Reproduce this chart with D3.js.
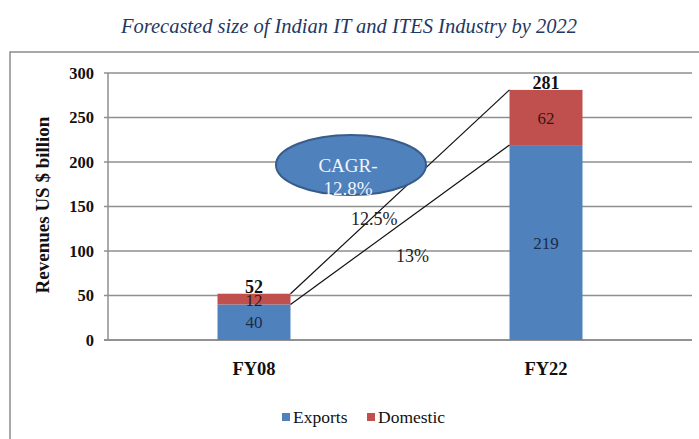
<!DOCTYPE html>
<html>
<head>
<meta charset="utf-8">
<script src="https://cdn.jsdelivr.net/npm/d3@7"></script>
<style>
  body { margin: 0; background: #fff; }
  text { font-family: "Liberation Serif", "Times New Roman", serif; }
</style>
</head>
<body>
<svg id="chart" width="699" height="439"></svg>
<script>
const categories = ['FY08', 'FY22'];
const exports = [40, 219];
const domestic = [12, 62];
const totals = [52, 281];
const yTicks = [0, 50, 100, 150, 200, 250, 300];
const growthLabels = ['12.5%', '13%'];
const cagrText = ['CAGR-', '12.8%'];

const svg = d3.select('#chart');
const margin = {top: 73, left: 108, right: 7, bottom: 99};
const width = 699 - margin.left - margin.right;
const height = 439 - margin.top - margin.bottom;

// outer frame
svg.append('rect')
    .attr('x', 10).attr('y', 52)
    .attr('width', 700).attr('height', 400)
    .style('fill', 'none')
    .style('stroke', '#8c8c8c')
    .style('stroke-width', 1.5);

svg.append('text')
    .attr('x', 349).attr('y', 33)
    .attr('text-anchor', 'middle')
    .style('font-size', '20.5px')
    .style('font-style', 'italic')
    .style('fill', '#1f3864')
    .text('Forecasted size of Indian IT and ITES Industry by 2022');

const g = svg.append('g').attr('transform', `translate(${margin.left},${margin.top})`);

const x = d3.scaleBand().domain(categories).range([0, width]).paddingInner(0).paddingOuter(0);
const y = d3.scaleLinear().domain([0, 300]).range([height, 0]);
const barW = x.bandwidth() * 0.25;

// gridlines
g.selectAll('line.grid')
    .data(yTicks)
    .enter().append('line')
    .attr('class', 'grid')
    .attr('x1', -4).attr('x2', width)
    .attr('y1', d => y(d)).attr('y2', d => y(d))
    .style('stroke', d => d == 0 ? '#6e6e6e' : '#8f8f8f')
    .style('stroke-width', 1.5);

g.append('line')
    .attr('x1', 0).attr('x2', 0)
    .attr('y1', y(300)).attr('y2', y(0))
    .style('stroke', '#8f8f8f')
    .style('stroke-width', 1.5);

const yAxis = d3.axisLeft(y).tickValues(yTicks).tickSize(0).tickPadding(14);
g.append('g').call(yAxis)
    .call(a => a.select('.domain').remove())
    .selectAll('text')
    .style('font-family', '"Liberation Serif", serif')
    .style('font-size', '16.5px')
    .style('font-weight', 'bold')
    .style('fill', '#111');

const xAxis = d3.axisBottom(x).tickSize(0).tickPadding(22);
g.append('g').attr('transform', `translate(0,${height})`).call(xAxis)
    .call(a => a.select('.domain').remove())
    .selectAll('text')
    .style('font-family', '"Liberation Serif", serif')
    .style('font-size', '18.5px')
    .style('font-weight', 'bold')
    .style('fill', '#111');

svg.append('text')
    .attr('transform', `translate(49,${margin.top + 132}) rotate(-90)`)
    .attr('text-anchor', 'middle')
    .style('font-size', '19px')
    .style('font-weight', 'bold')
    .style('fill', '#111')
    .text('Revenues US $ billion');

// bars
const barX = d => x(d) + (x.bandwidth() - barW) / 2;
g.selectAll('rect.exp')
    .data(categories)
    .enter().append('rect')
    .attr('x', barX)
    .attr('y', (d, i) => y(exports[i]))
    .attr('width', barW)
    .attr('height', (d, i) => height - y(exports[i]))
    .style('fill', '#4f81bd');

g.selectAll('rect.dom')
    .data(categories)
    .enter().append('rect')
    .attr('x', barX)
    .attr('y', (d, i) => y(exports[i] + domestic[i]))
    .attr('width', barW)
    .attr('height', (d, i) => y(exports[i]) - y(exports[i] + domestic[i]))
    .style('fill', '#c0504d');

// connector lines
const lineTops = [[totals[0], totals[1]], [exports[0], exports[1]]];
lineTops.forEach(function (p) {
    g.append('line')
        .attr('x1', barX(categories[0]) + barW)
        .attr('y1', y(p[0]))
        .attr('x2', barX(categories[1]))
        .attr('y2', y(p[1]))
        .style('stroke', '#111')
        .style('stroke-width', 1.2);
});

// value labels
const cx = d => x(d) + x.bandwidth() / 2;
g.selectAll('text.exp')
    .data(categories)
    .enter().append('text')
    .attr('x', cx)
    .attr('y', (d, i) => y(exports[i] / 2) + 6)
    .attr('text-anchor', 'middle')
    .style('font-size', '17px')
    .style('fill', '#1c2b4a')
    .text((d, i) => exports[i]);

g.selectAll('text.dom')
    .data(categories)
    .enter().append('text')
    .attr('x', cx)
    .attr('y', (d, i) => i == 0 ? y(exports[i]) + 2 : y(exports[i] + domestic[i] / 2) + 6)
    .attr('text-anchor', 'middle')
    .style('font-size', '17px')
    .style('fill', '#3a1512')
    .text((d, i) => domestic[i]);

g.selectAll('text.tot')
    .data(categories)
    .enter().append('text')
    .attr('x', cx)
    .attr('y', (d, i) => y(totals[i]) - 1)
    .attr('text-anchor', 'middle')
    .style('font-size', '18px')
    .style('font-weight', 'bold')
    .style('fill', '#111')
    .text((d, i) => totals[i]);

// CAGR bubble
svg.append('ellipse')
    .attr('cx', 351).attr('cy', 165)
    .attr('rx', 75).attr('ry', 30)
    .style('fill', '#4f81bd')
    .style('stroke', '#385d8a')
    .style('stroke-width', 2);

svg.selectAll('text.cagr')
    .data(cagrText)
    .enter().append('text')
    .attr('x', 348)
    .attr('y', (d, i) => 172 + i * 23)
    .attr('text-anchor', 'middle')
    .style('font-size', '19px')
    .style('fill', '#f2f4fa')
    .text(d => d);

svg.append('text').attr('x', 351).attr('y', 225)
    .style('font-size', '18px').style('fill', '#222').text(growthLabels[0]);
svg.append('text').attr('x', 396).attr('y', 262)
    .style('font-size', '18px').style('fill', '#222').text(growthLabels[1]);

// legend
const legend = [['Exports', '#4f81bd', 282], ['Domestic', '#c0504d', 367]];
legend.forEach(function (l) {
    svg.append('rect')
        .attr('x', l[2]).attr('y', 413)
        .attr('width', 8).attr('height', 8)
        .style('fill', l[1]);
    svg.append('text')
        .attr('x', l[2] + 11).attr('y', 423)
        .style('font-size', '17.5px')
        .style('fill', '#111')
        .text(l[0]);
});
</script>
</body>
</html>
